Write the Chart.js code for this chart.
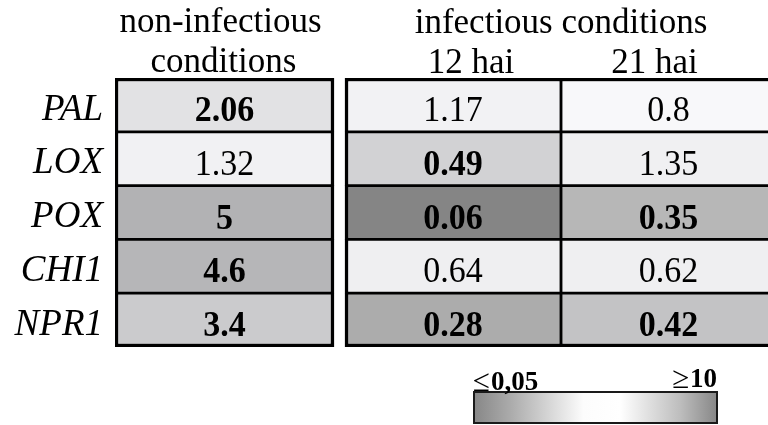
<!DOCTYPE html>
<html>
<head>
<meta charset="utf-8">
<script src="https://cdn.jsdelivr.net/npm/chart.js@4"></script>
<style>
  html, body { margin: 0; background: #fff; }
  #wrap { width: 768px; height: 425px; }
</style>
</head>
<body>
<div id="wrap"><canvas id="heat"></canvas></div>
<script>
const genes = ['PAL', 'LOX', 'POX', 'CHI1', 'NPR1'];
const columns = ['non-infectious conditions', '12 hai', '21 hai'];

// relative expression
const nonInfectious = [2.06, 1.32, 5, 4.6, 3.4];
const hai12 = [1.17, 0.49, 0.06, 0.64, 0.28];
const hai21 = [0.8, 1.35, 0.35, 0.62, 0.42];

// bold in the table (significant)
const sigNonInf = [true, false, true, true, true];
const sig12 = [false, true, true, false, true];
const sig21 = [false, false, true, false, true];

const scaleLabels = [['≤', '0,05'], ['≥', '10']];

// cell shades
const shadesNonInf = ['#e2e2e4', '#f1f1f3', '#b2b2b4', '#b6b6b8', '#cbcbcd'];
const shades12 = ['#f2f2f4', '#d2d2d4', '#858585', '#efeff1', '#acacac'];
const shades21 = ['#f8f8fa', '#f0f0f2', '#b7b7b7', '#efeff1', '#c3c3c5'];

/* ---- layout (x units = px from left edge of the table) ---- */
const colSpans = [[0, 219], [230, 446], [446, 661]];
const serif = '"Liberation Serif", "Times New Roman", serif';
const last = genes.length - 1;
const outer = 3.5, inner = 1.75;

function cellBorder(col) {
  return ctx => {
    const i = ctx.dataIndex;
    return {
      top: i === 0 ? outer : inner,
      bottom: i === last ? outer : inner,
      left: col === 2 ? inner : outer,
      right: col === 1 ? inner : outer
    };
  };
}

function column(col, values, sig, shades) {
  return {
    label: columns[col],
    data: values.map(() => colSpans[col]),
    values: values,
    bold: sig,
    backgroundColor: shades,
    borderColor: '#000',
    borderWidth: cellBorder(col),
    borderSkipped: false,
    categoryPercentage: 1,
    barPercentage: 1,
    grouped: false
  };
}

const cellText = {
  id: 'cellText',
  afterDatasetsDraw(chart) {
    const ctx = chart.ctx;
    chart.data.datasets.forEach((ds, di) => {
      chart.getDatasetMeta(di).data.forEach((bar, i) => {
        const p = bar.getProps(['x', 'y', 'base'], true);
        ctx.save();
        ctx.fillStyle = '#000';
        ctx.textAlign = 'center';
        ctx.textBaseline = 'alphabetic';
        ctx.font = (ds.bold[i] ? 'bold ' : '') + '34px ' + serif;
        // the original type is a little taller than Liberation Serif
        ctx.translate((p.x + p.base) / 2, p.y + 16);
        ctx.scale(1, 1.07);
        ctx.fillText(String(ds.values[i]), 0, 0);
        ctx.restore();
      });
    });
  }
};

const headers = {
  id: 'headers',
  afterDraw(chart) {
    const ctx = chart.ctx;
    const x = chart.scales.x;
    const mid = c => x.getPixelForValue((colSpans[c][0] + colSpans[c][1]) / 2);
    ctx.save();
    ctx.fillStyle = '#000';
    ctx.textAlign = 'center';
    ctx.textBaseline = 'alphabetic';
    ctx.font = '35px ' + serif;
    ctx.fillText('non-infectious', mid(0) - 4, 32);
    ctx.fillText('conditions', mid(0) - 1, 72);
    ctx.fillText('infectious conditions', x.getPixelForValue(colSpans[2][0]), 33);
    ctx.fillText(columns[1], mid(1) + 18, 73);
    ctx.fillText(columns[2], mid(2) - 14, 73);

    // colour key
    const kx = 474, ky = 392, kw = 243, kh = 31;
    const g = ctx.createLinearGradient(kx, 0, kx + kw, 0);
    g.addColorStop(0, '#878787');
    g.addColorStop(0.15, '#ababab');
    g.addColorStop(0.45, '#fcfcfc');
    g.addColorStop(0.6, '#ffffff');
    g.addColorStop(0.85, '#bdbdbd');
    g.addColorStop(1, '#878787');
    ctx.fillStyle = g;
    ctx.fillRect(kx, ky, kw, kh);
    ctx.strokeStyle = '#1a1a1a';
    ctx.lineWidth = 2;
    ctx.strokeRect(kx, ky, kw, kh);

    ctx.fillStyle = '#000';
    ctx.textAlign = 'left';
    const sym = '31px ' + serif;
    const num = 'bold 27px ' + serif;
    // left label
    ctx.font = sym;
    ctx.fillText(scaleLabels[0][0], kx - 1, 391);
    let w = ctx.measureText(scaleLabels[0][0]).width;
    ctx.font = num;
    ctx.fillText(scaleLabels[0][1], kx + w, 390);
    // right label
    const nw = ctx.measureText(scaleLabels[1][1]).width;
    ctx.fillText(scaleLabels[1][1], kx + kw - nw, 387);
    ctx.font = sym;
    w = ctx.measureText(scaleLabels[1][0]).width;
    ctx.fillText(scaleLabels[1][0], kx + kw - nw - w - 1, 388);
    ctx.restore();
  }
};

new Chart(document.getElementById('heat'), {
  type: 'bar',
  data: {
    labels: genes,
    datasets: [
      column(0, nonInfectious, sigNonInf, shadesNonInf),
      column(1, hai12, sig12, shades12),
      column(2, hai21, sig21, shades21)
    ]
  },
  options: {
    indexAxis: 'y',
    responsive: true,
    maintainAspectRatio: false,
    animation: false,
    layout: { padding: { top: 78, bottom: 78, left: 0, right: 0 } },
    plugins: { legend: { display: false }, tooltip: { enabled: false } },
    scales: {
      x: { type: 'linear', display: false, min: 0, max: 653 },
      y: {
        type: 'category',
        offset: true,
        grid: { display: false, drawTicks: false },
        border: { display: false },
        ticks: {
          color: '#000',
          padding: 12,
          labelOffset: 5,
          font: { family: serif, size: 37, style: 'italic' }
        },
        afterFit(scale) { scale.width = 115; }
      }
    }
  },
  plugins: [cellText, headers]
});
</script>
</body>
</html>
